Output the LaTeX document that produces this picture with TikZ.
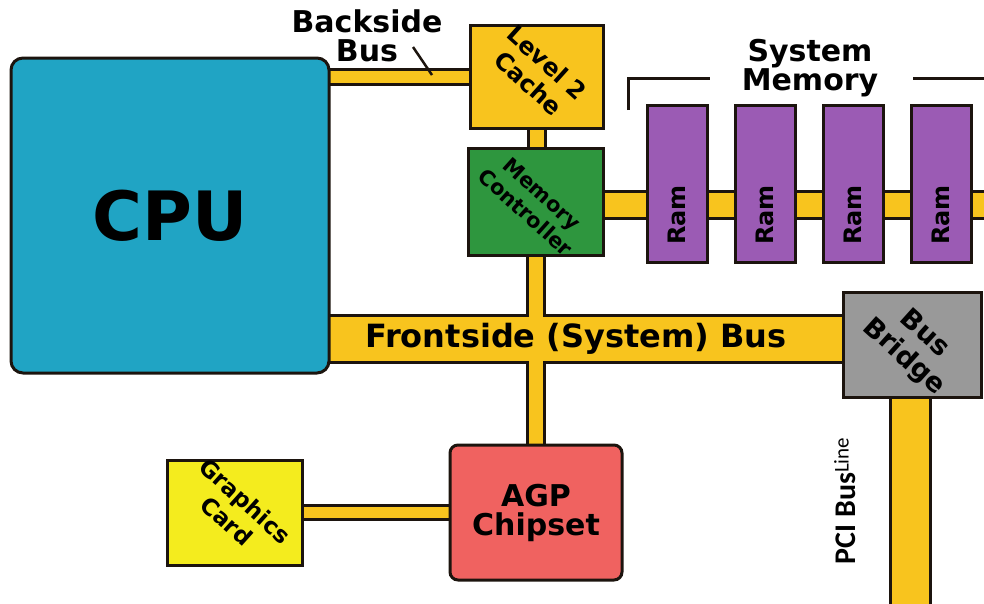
\documentclass[tikz,border=0pt]{standalone}
\usepackage{fontspec}
\setmainfont{DejaVu Sans}
\newfontfamily\pcifont{Carlito}
\usetikzlibrary{backgrounds}

\definecolor{cpublue}{RGB}{32,164,196}
\definecolor{busyellow}{RGB}{248,196,30}
\definecolor{ctrlgreen}{RGB}{46,150,62}
\definecolor{rampurple}{RGB}{155,91,180}
\definecolor{bridgegray}{RGB}{153,153,153}
\definecolor{cardyellow}{RGB}{244,236,30}
\definecolor{agpred}{RGB}{240,98,96}
\definecolor{edge}{RGB}{28,20,14}

\tikzset{
  unit/.style={draw=edge, line width=3pt, inner sep=0pt, outer sep=0pt},
  slanted/.style={rotate=-42, align=center, inner sep=0pt},
}

\begin{document}
\begin{tikzpicture}[
  x=1pt,
  y=-1pt,
  every node/.style={font=\bfseries}
]
  % Canvas: x,y = pixels of the 984x603 sketch, y running down.
  \useasboundingbox (0,0) rectangle (984,603);

  % Units.
  \node[unit, fill=cpublue, rounded corners=12pt, minimum width=318pt, minimum height=315pt,
        font=\bfseries\fontsize{68}{68}\selectfont] (cpu) at (170,215.5) {CPU};
  \node[unit, fill=busyellow, minimum width=133pt, minimum height=103pt] (l2) at (536.5,76.5) {};
  \node[unit, fill=ctrlgreen, minimum width=135pt, minimum height=107pt] (mc) at (535.5,201.5) {};
  \node[unit, fill=bridgegray, minimum width=138pt, minimum height=105pt] (bridge) at (912,344.5) {};
  \node[unit, fill=cardyellow, minimum width=135pt, minimum height=105pt] (gfx) at (234.5,512.5) {};
  \node[unit, fill=agpred, rounded corners=8pt, minimum width=172pt, minimum height=135pt, align=center,
        font=\bfseries\fontsize{30}{29}\selectfont] (agp) at (536,512.5) {AGP\\Chipset};

  % Slanted unit names.
  \node[slanted, font=\bfseries\fontsize{24}{28}\selectfont] (l2txt) at (538,73) {Level 2\\Cache};
  \node[slanted, font=\bfseries\fontsize{21}{25}\selectfont] (mctxt) at (534,203) {Memory\\Controller};
  \node[slanted, font=\bfseries\fontsize{27}{31}\selectfont] (bridgetxt) at (914,346) {Bus\\Bridge};
  \node[slanted, font=\bfseries\fontsize{23}{27}\selectfont] (gfxtxt) at (236,511) {Graphics\\Card};

  % Memory sticks.
  \foreach \i/\x in {1/677,2/765,3/853,4/941} {
    \node[unit, fill=rampurple, minimum width=60pt, minimum height=157pt] (ram\i) at (\x,183.5) {};
    \node[rotate=90, font=\bfseries\fontsize{24}{24}\selectfont] (ramtxt\i) at (\x,215) {Ram};
  }

  % Bus names.
  \node[align=center, font=\bfseries\fontsize{30}{29}\selectfont] (bsblabel) at (367,36) {Backside\\Bus};
  \node[align=center, font=\bfseries\fontsize{30}{29}\selectfont] (memlabel) at (810,68) {System\\Memory};
  \node[font=\bfseries\fontsize{32}{32}\selectfont] (fsblabel) at (576,339) {Frontside (System) Bus};
  \node[rotate=90, inner sep=0pt, font=\pcifont\bfseries\fontsize{30}{30}\selectfont] (pcilabel) at (845,501)
    {PCI Bus\raisebox{7pt}{\mdseries\fontsize{21}{21}\selectfont Line}};

  % Free ends of the buses.
  \coordinate (fsb) at (843,339);
  \coordinate (memend) at (990,205);
  \coordinate (pciend) at (910,610);

  % Buses: outlines first, then yellow cores, so crossings merge.
  \begin{pgfonlayer}{background}
    \fill[white] (0,0) rectangle (984,603);
    \foreach \col/\trim in {edge/0pt, busyellow/6pt} {
      \draw[\col, line width=18pt-\trim] (l2.west) -- (l2.west -| cpu.east);
      \draw[\col, line width=20pt-\trim] (l2.south) -- (l2.south |- mc.north);
      \draw[\col, line width=20pt-\trim] (mc.south) -- (mc.south |- agp.north);
      \draw[\col, line width=50pt-\trim] (bridge.west |- fsb) -- (cpu.east |- fsb);
      \draw[\col, line width=30pt-\trim] (mc.east |- memend) -- (memend);
      \draw[\col, line width=17pt-\trim] (gfx.east) -- (agp.west |- gfx.east);
      \draw[\col, line width=43pt-\trim] (bridge.south -| pciend) -- (pciend);
    }
  \end{pgfonlayer}

  % Backside bus leader and memory bracket.
  \coordinate (tickA) at (413,47);
  \coordinate (tickB) at (432,75);
  \draw[edge, line width=2.5pt] (tickA) -- (tickB);
  \draw[edge, line width=3pt] (628,110) -- (628,78) -- (710,78);
  \draw[edge, line width=3pt] (913,78) -- (990,78);
\end{tikzpicture}
\end{document}
